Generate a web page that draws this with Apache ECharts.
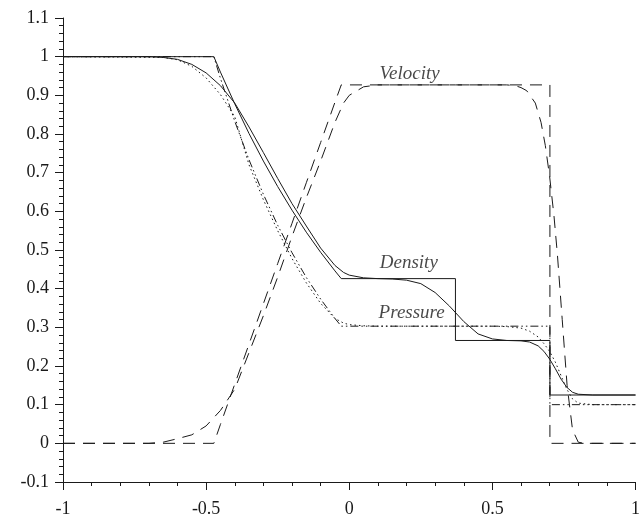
<!DOCTYPE html>
<html>
<head>
<meta charset="utf-8">
<script src="https://cdn.jsdelivr.net/npm/echarts@6/dist/echarts.min.js"></script>
<style>
  html, body { margin: 0; padding: 0; background: #fff; }
  #chart { width: 643px; height: 524px; }
</style>
</head>
<body>
<div id="chart"></div>
<script>
// exact solution (sharp profiles)
var exactX   = [-1, -0.473, -0.45, -0.4, -0.35, -0.3, -0.25, -0.2, -0.15, -0.1, -0.05, -0.028, 0.371, 0.371, 0.701, 0.701, 1];
var exactRho = [1, 1, 0.960, 0.878, 0.801, 0.730, 0.664, 0.603, 0.546, 0.494, 0.446, 0.426, 0.426, 0.266, 0.266, 0.125, 0.125];
var exactP   = [1, 1, 0.944, 0.833, 0.733, 0.644, 0.564, 0.493, 0.429, 0.373, 0.323, 0.303, 0.303, 0.303, 0.303, 0.1, 0.1];
var exactU   = [0, 0, 0.049, 0.153, 0.257, 0.361, 0.465, 0.569, 0.674, 0.778, 0.882, 0.927, 0.927, 0.927, 0.927, 0, 0];

// numerical solution (smeared profiles)
var numRhoX = [-1, -0.7, -0.65, -0.6, -0.55, -0.5, -0.45, -0.4, -0.35, -0.3, -0.25, -0.2, -0.15, -0.1, -0.05, -0.02, 0, 0.05, 0.1, 0.15, 0.2, 0.25, 0.3, 0.35, 0.4, 0.45, 0.5, 0.55, 0.6, 0.63, 0.66, 0.68, 0.7, 0.72, 0.74, 0.76, 0.78, 0.8, 0.85, 1];
var numRho  = [1, 1, 0.998, 0.993, 0.98, 0.958, 0.925, 0.88, 0.818, 0.752, 0.685, 0.62, 0.562, 0.505, 0.46, 0.442, 0.435, 0.428, 0.426, 0.425, 0.422, 0.413, 0.39, 0.355, 0.315, 0.283, 0.27, 0.266, 0.265, 0.262, 0.252, 0.238, 0.218, 0.193, 0.166, 0.145, 0.132, 0.127, 0.125, 0.125];

var numPX = [-1, -0.65, -0.6, -0.55, -0.5, -0.45, -0.4, -0.35, -0.3, -0.25, -0.2, -0.15, -0.1, -0.05, -0.02, 0, 0.05, 0.1, 0.5, 0.55, 0.6, 0.63, 0.66, 0.68, 0.7, 0.72, 0.74, 0.76, 0.78, 0.8, 0.85, 1];
var numP  = [1, 0.998, 0.992, 0.975, 0.945, 0.902, 0.845, 0.72, 0.63, 0.55, 0.478, 0.415, 0.362, 0.323, 0.311, 0.307, 0.304, 0.303, 0.303, 0.302, 0.298, 0.29, 0.275, 0.258, 0.238, 0.21, 0.175, 0.14, 0.115, 0.104, 0.1, 0.1];

var numUX = [-1, -0.7, -0.65, -0.6, -0.55, -0.5, -0.45, -0.4, -0.35, -0.3, -0.25, -0.2, -0.15, -0.1, -0.05, -0.02, 0, 0.05, 0.1, 0.55, 0.58, 0.6, 0.62, 0.65, 0.67, 0.685, 0.7, 0.715, 0.727, 0.744, 0.761, 0.78, 0.8, 0.82, 1];
var numU  = [0, 0, 0.003, 0.012, 0.022, 0.045, 0.085, 0.14, 0.235, 0.33, 0.43, 0.535, 0.635, 0.73, 0.83, 0.88, 0.9, 0.922, 0.927, 0.927, 0.925, 0.92, 0.912, 0.88, 0.83, 0.77, 0.69, 0.59, 0.49, 0.32, 0.15, 0.035, 0.003, 0, 0];

// curve labels
var labelText = ['Velocity', 'Density', 'Pressure'];
var labelX    = [0.211, 0.208, 0.218];
var labelY    = [0.956, 0.466, 0.337];

function pairs(xs, ys) {
  var out = [];
  for (var i = 0; i < xs.length; i++) out.push([xs[i], ys[i]]);
  return out;
}

var ink = '#1a1a1a';
var dashU = [12, 8];
var dashP = [8, 3, 1.5, 3, 1.5, 3];
var dotP = [1.5, 3];

function lineSeries(name, data, dash) {
  return {
    name: name,
    type: 'line',
    data: data,
    showSymbol: false,
    smooth: false,
    silent: true,
    lineStyle: { color: ink, width: 1, type: dash }
  };
}

var chart = echarts.init(document.getElementById('chart'));
chart.setOption({
  animation: false,
  backgroundColor: '#fff',
  grid: { left: 63, right: 2, top: 18, bottom: 42 },
  xAxis: {
    type: 'value',
    min: -1, max: 1, interval: 0.5,
    axisLine: { onZero: false, lineStyle: { color: ink, width: 1 } },
    axisTick: { show: true, length: 8, lineStyle: { color: ink } },
    minorTick: { show: true, splitNumber: 5, length: 4, lineStyle: { color: ink } },
    splitLine: { show: false },
    axisLabel: {
      margin: 18, color: ink, fontFamily: 'Liberation Serif', fontSize: 18,
      formatter: function (v) { return String(Math.round(v * 10) / 10); }
    }
  },
  yAxis: {
    type: 'value',
    min: -0.1, max: 1.1, interval: 0.1,
    axisLine: { show: true, onZero: false, lineStyle: { color: ink, width: 1 } },
    axisTick: { show: true, length: 8, lineStyle: { color: ink } },
    minorTick: { show: true, splitNumber: 5, length: 4, lineStyle: { color: ink } },
    splitLine: { show: false },
    axisLabel: {
      margin: 14, color: ink, fontFamily: 'Liberation Serif', fontSize: 18,
      formatter: function (v) { return String(Math.round(v * 10) / 10); }
    }
  },
  series: [
    lineSeries('Density exact', pairs(exactX, exactRho), 'solid'),
    lineSeries('Pressure exact', pairs(exactX, exactP), dashP),
    lineSeries('Velocity exact', pairs(exactX, exactU), dashU),
    lineSeries('Density', pairs(numRhoX, numRho), 'solid'),
    lineSeries('Pressure', pairs(numPX, numP), dotP),
    lineSeries('Velocity', pairs(numUX, numU), dashU),
    {
      type: 'scatter',
      symbolSize: 0,
      silent: true,
      data: labelText.map(function (t, i) { return { value: [labelX[i], labelY[i]], name: t }; }),
      label: {
        show: true, position: 'inside', formatter: '{b}',
        color: ink, fontFamily: 'Liberation Serif', fontStyle: 'italic', fontSize: 19
      }
    }
  ]
});
</script>
</body>
</html>
